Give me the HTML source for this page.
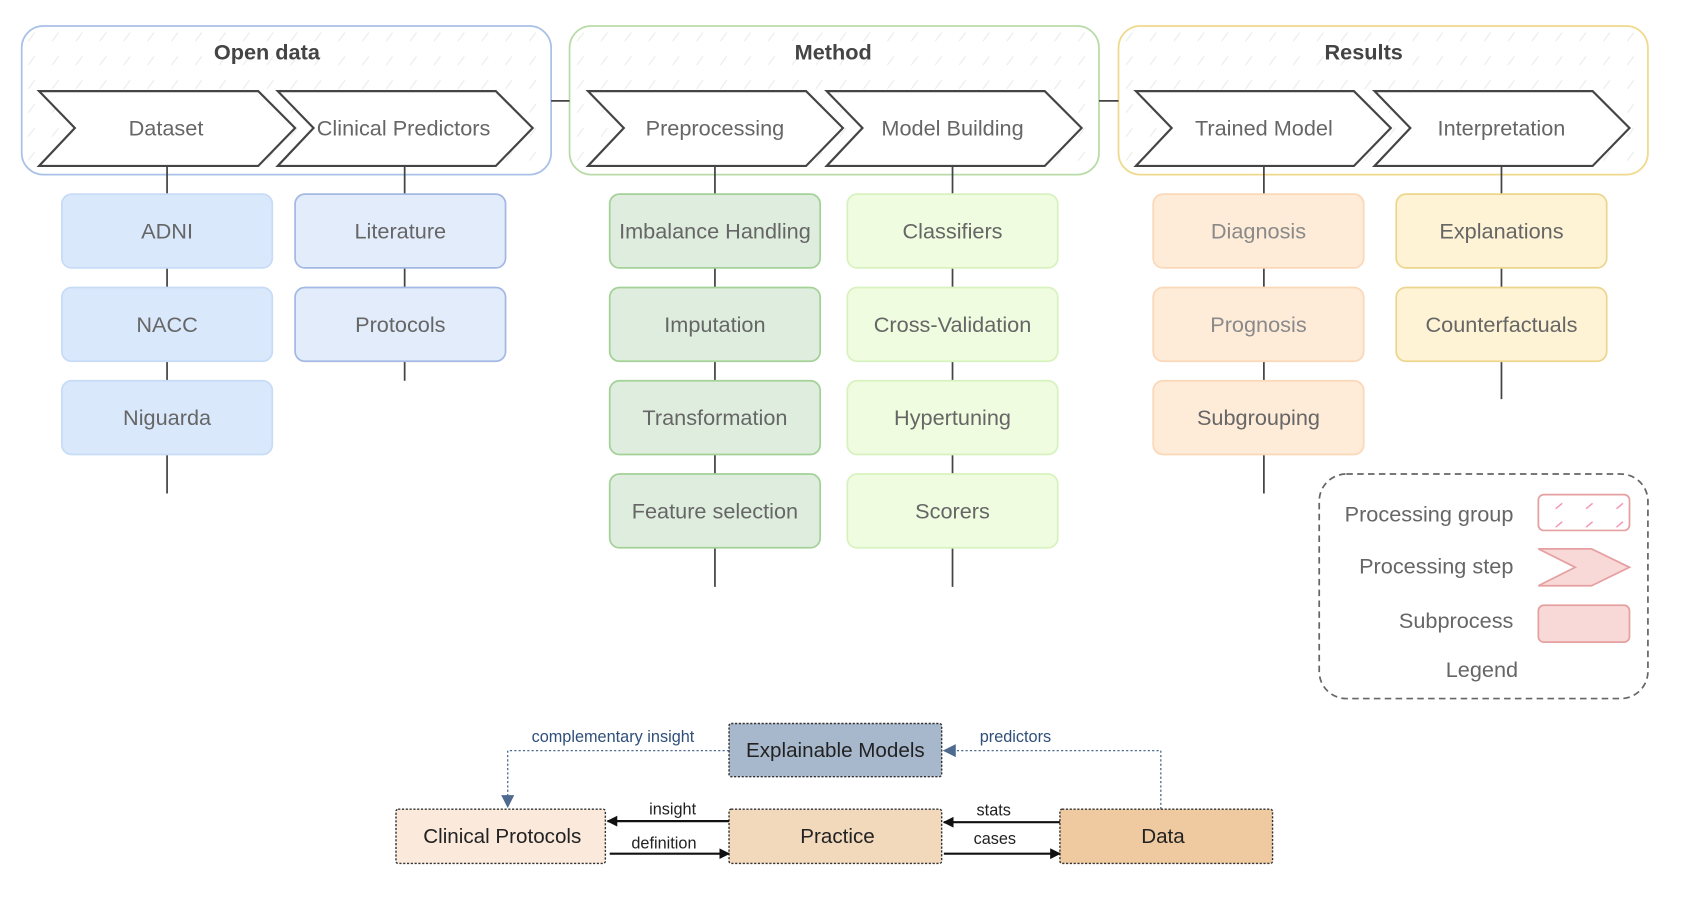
<!DOCTYPE html>
<html><head><meta charset="utf-8"><style>
html,body{margin:0;padding:0;background:#fff;width:1700px;height:909px;overflow:hidden}
svg{display:block}
text{font-family:"Liberation Sans",sans-serif}
.t{font-size:20px;fill:#666;text-anchor:middle;dominant-baseline:central}
.g{font-size:20px;font-weight:bold;fill:#444;text-anchor:middle;dominant-baseline:central}
.c{stroke:#444;stroke-width:2;fill:#fff}
.l{stroke:#444;stroke-width:1.6}
.b{font-size:19px;fill:#222;text-anchor:middle;dominant-baseline:central}
.s{font-size:15px;fill:#222;text-anchor:middle}
.bl{font-size:15px;fill:#2f4f7a;text-anchor:middle}
</style></head><body>
<svg width="1700" height="909" viewBox="0 0 1567 838" preserveAspectRatio="none">
<defs>
<pattern id="h" width="22" height="22" patternUnits="userSpaceOnUse"><path d="M4 16 L10 8" stroke="#e6ece6" stroke-width="1"/></pattern>
<pattern id="hp" width="28" height="17" patternUnits="userSpaceOnUse"><path d="M6 10 L12 5" stroke="#ef8fb0" stroke-width="1.3"/></pattern>
<marker id="ab" markerWidth="10" markerHeight="10" refX="9" refY="5" orient="auto" markerUnits="userSpaceOnUse"><path d="M0 0 L10 5 L0 10 z" fill="#111"/></marker>
<marker id="ag" markerWidth="12" markerHeight="12" refX="11" refY="6" orient="auto" markerUnits="userSpaceOnUse"><path d="M0 0 L12 6 L0 12 z" fill="#4e6a8f"/></marker>
</defs>

<rect x="20" y="24" width="488" height="137" rx="20" fill="#fff" stroke="#a9c1e8" stroke-width="1.6"/>
<rect x="20" y="24" width="488" height="137" rx="20" fill="url(#h)"/>
<rect x="525" y="24" width="488" height="137" rx="20" fill="#fff" stroke="#b9dba8" stroke-width="1.6"/>
<rect x="525" y="24" width="488" height="137" rx="20" fill="url(#h)"/>
<rect x="1031" y="24" width="488" height="137" rx="20" fill="#fff" stroke="#f0d98c" stroke-width="1.6"/>
<rect x="1031" y="24" width="488" height="137" rx="20" fill="url(#h)"/>
<line x1="508" y1="93" x2="525" y2="93" class="l"/>
<line x1="1013" y1="93" x2="1031" y2="93" class="l"/>
<text x="246" y="48" class="g">Open data</text>
<text x="768" y="48" class="g">Method</text>
<text x="1257" y="48" class="g">Results</text>

<g class="c">
<path d="M36 84 L238 84 L272 118 L238 153 L36 153 L69 118 Z"/>
<path d="M256 84 L457 84 L491 118 L457 153 L256 153 L289 118 Z"/>
<path d="M542 84 L743 84 L777 118 L743 153 L542 153 L575 118 Z"/>
<path d="M762 84 L963 84 L997 118 L963 153 L762 153 L795 118 Z"/>
<path d="M1047 84 L1248 84 L1282 118 L1248 153 L1047 153 L1080 118 Z"/>
<path d="M1267 84 L1468 84 L1502 118 L1468 153 L1267 153 L1300 118 Z"/>
</g>
<text x="153" y="118" class="t">Dataset</text>
<text x="372" y="118" class="t">Clinical Predictors</text>
<text x="659" y="118" class="t">Preprocessing</text>
<text x="878" y="118" class="t">Model Building</text>
<text x="1165" y="118" class="t">Trained Model</text>
<text x="1384" y="118" class="t">Interpretation</text>

<line x1="154" y1="153" x2="154" y2="455" class="l"/>
<line x1="373" y1="153" x2="373" y2="351" class="l"/>
<line x1="659" y1="153" x2="659" y2="541" class="l"/>
<line x1="878" y1="153" x2="878" y2="541" class="l"/>
<line x1="1165" y1="153" x2="1165" y2="455" class="l"/>
<line x1="1384" y1="153" x2="1384" y2="368" class="l"/>

<g stroke-width="1.6">
<rect x="57" y="179" width="194" height="68" rx="9" fill="#dae8fc" stroke="#c7dbf7"/>
<rect x="57" y="265" width="194" height="68" rx="9" fill="#dae8fc" stroke="#c7dbf7"/>
<rect x="57" y="351" width="194" height="68" rx="9" fill="#dae8fc" stroke="#c7dbf7"/>
<rect x="272" y="179" width="194" height="68" rx="9" fill="#e3ecfb" stroke="#a3b8e2"/>
<rect x="272" y="265" width="194" height="68" rx="9" fill="#e3ecfb" stroke="#a3b8e2"/>
<rect x="562" y="179" width="194" height="68" rx="9" fill="#deeddd" stroke="#a3d197"/>
<rect x="562" y="265" width="194" height="68" rx="9" fill="#deeddd" stroke="#a3d197"/>
<rect x="562" y="351" width="194" height="68" rx="9" fill="#deeddd" stroke="#a3d197"/>
<rect x="562" y="437" width="194" height="68" rx="9" fill="#deeddd" stroke="#a3d197"/>
<rect x="781" y="179" width="194" height="68" rx="9" fill="#effcdf" stroke="#d8f2bf"/>
<rect x="781" y="265" width="194" height="68" rx="9" fill="#effcdf" stroke="#d8f2bf"/>
<rect x="781" y="351" width="194" height="68" rx="9" fill="#effcdf" stroke="#d8f2bf"/>
<rect x="781" y="437" width="194" height="68" rx="9" fill="#effcdf" stroke="#d8f2bf"/>
<rect x="1063" y="179" width="194" height="68" rx="9" fill="#feebd8" stroke="#fad8b8"/>
<rect x="1063" y="265" width="194" height="68" rx="9" fill="#feebd8" stroke="#fad8b8"/>
<rect x="1063" y="351" width="194" height="68" rx="9" fill="#feebd8" stroke="#fad8b8"/>
<rect x="1287" y="179" width="194" height="68" rx="9" fill="#fff3d5" stroke="#ecd68e"/>
<rect x="1287" y="265" width="194" height="68" rx="9" fill="#fff3d5" stroke="#ecd68e"/>
</g>
<text x="154" y="213" class="t">ADNI</text>
<text x="154" y="299" class="t">NACC</text>
<text x="154" y="385" class="t">Niguarda</text>
<text x="369" y="213" class="t">Literature</text>
<text x="369" y="299" class="t">Protocols</text>
<text x="659" y="213" class="t">Imbalance Handling</text>
<text x="659" y="299" class="t">Imputation</text>
<text x="659" y="385" class="t">Transformation</text>
<text x="659" y="471" class="t">Feature selection</text>
<text x="878" y="213" class="t">Classifiers</text>
<text x="878" y="299" class="t">Cross-Validation</text>
<text x="878" y="385" class="t">Hypertuning</text>
<text x="878" y="471" class="t">Scorers</text>
<text x="1160" y="213" class="t" style="fill:#8a8a8a">Diagnosis</text>
<text x="1160" y="299" class="t" style="fill:#8a8a8a">Prognosis</text>
<text x="1160" y="385" class="t">Subgrouping</text>
<text x="1384" y="213" class="t">Explanations</text>
<text x="1384" y="299" class="t">Counterfactuals</text>

<rect x="1216" y="437" width="303" height="207" rx="25" fill="#fff" stroke="#666" stroke-width="1.6" stroke-dasharray="6 4"/>
<text x="1395" y="474" class="t" style="text-anchor:end">Processing group</text>
<text x="1395" y="522" class="t" style="text-anchor:end">Processing step</text>
<text x="1395" y="572" class="t" style="text-anchor:end">Subprocess</text>
<text x="1366" y="617" class="t">Legend</text>
<rect x="1418" y="456" width="84" height="33" rx="5" fill="#fff" stroke="#e5a0a0" stroke-width="1.6"/>
<rect x="1418" y="456" width="84" height="33" rx="5" fill="url(#hp)"/>
<path d="M1418 506 L1467 506 L1502 523 L1467 540 L1418 540 L1452 523 Z" fill="#f8d9d7" stroke="#e5a0a0" stroke-width="1.6"/>
<rect x="1418" y="558" width="84" height="34" rx="5" fill="#f8d9d7" stroke="#e5a0a0" stroke-width="1.6"/>

<path d="M672 692 L468 692 L468 744" fill="none" stroke="#4e6a8f" stroke-width="1.2" stroke-dasharray="2 2" marker-end="url(#ag)"/>
<path d="M1070 746 L1070 692 L870 692" fill="none" stroke="#4e6a8f" stroke-width="1.2" stroke-dasharray="2 2" marker-end="url(#ag)"/>
<rect x="672" y="667" width="196" height="49" rx="2" fill="#a8b8cc" stroke="#333" stroke-width="1.3" stroke-dasharray="2 1.5"/>
<text x="770" y="692" class="b">Explainable Models</text>
<text x="565" y="684" class="bl">complementary insight</text>
<text x="936" y="684" class="bl">predictors</text>

<rect x="365" y="746" width="193" height="50" rx="2" fill="#fbeadc" stroke="#333" stroke-width="1.3" stroke-dasharray="2 1.5"/>
<rect x="672" y="746" width="196" height="50" rx="2" fill="#f2d9bc" stroke="#333" stroke-width="1.3" stroke-dasharray="2 1.5"/>
<rect x="977" y="746" width="196" height="50" rx="2" fill="#efcaa0" stroke="#333" stroke-width="1.3" stroke-dasharray="2 1.5"/>
<text x="463" y="771" class="b">Clinical Protocols</text>
<text x="772" y="771" class="b">Practice</text>
<text x="1072" y="771" class="b">Data</text>

<line x1="672" y1="757" x2="560" y2="757" stroke="#111" stroke-width="2" marker-end="url(#ab)"/>
<line x1="562" y1="787" x2="672" y2="787" stroke="#111" stroke-width="2" marker-end="url(#ab)"/>
<line x1="977" y1="758" x2="870" y2="758" stroke="#111" stroke-width="2" marker-end="url(#ab)"/>
<line x1="870" y1="787" x2="977" y2="787" stroke="#111" stroke-width="2" marker-end="url(#ab)"/>
<text x="620" y="751" class="s">insight</text>
<text x="612" y="782" class="s">definition</text>
<text x="916" y="752" class="s">stats</text>
<text x="917" y="778" class="s">cases</text>
</svg>
</body></html>
